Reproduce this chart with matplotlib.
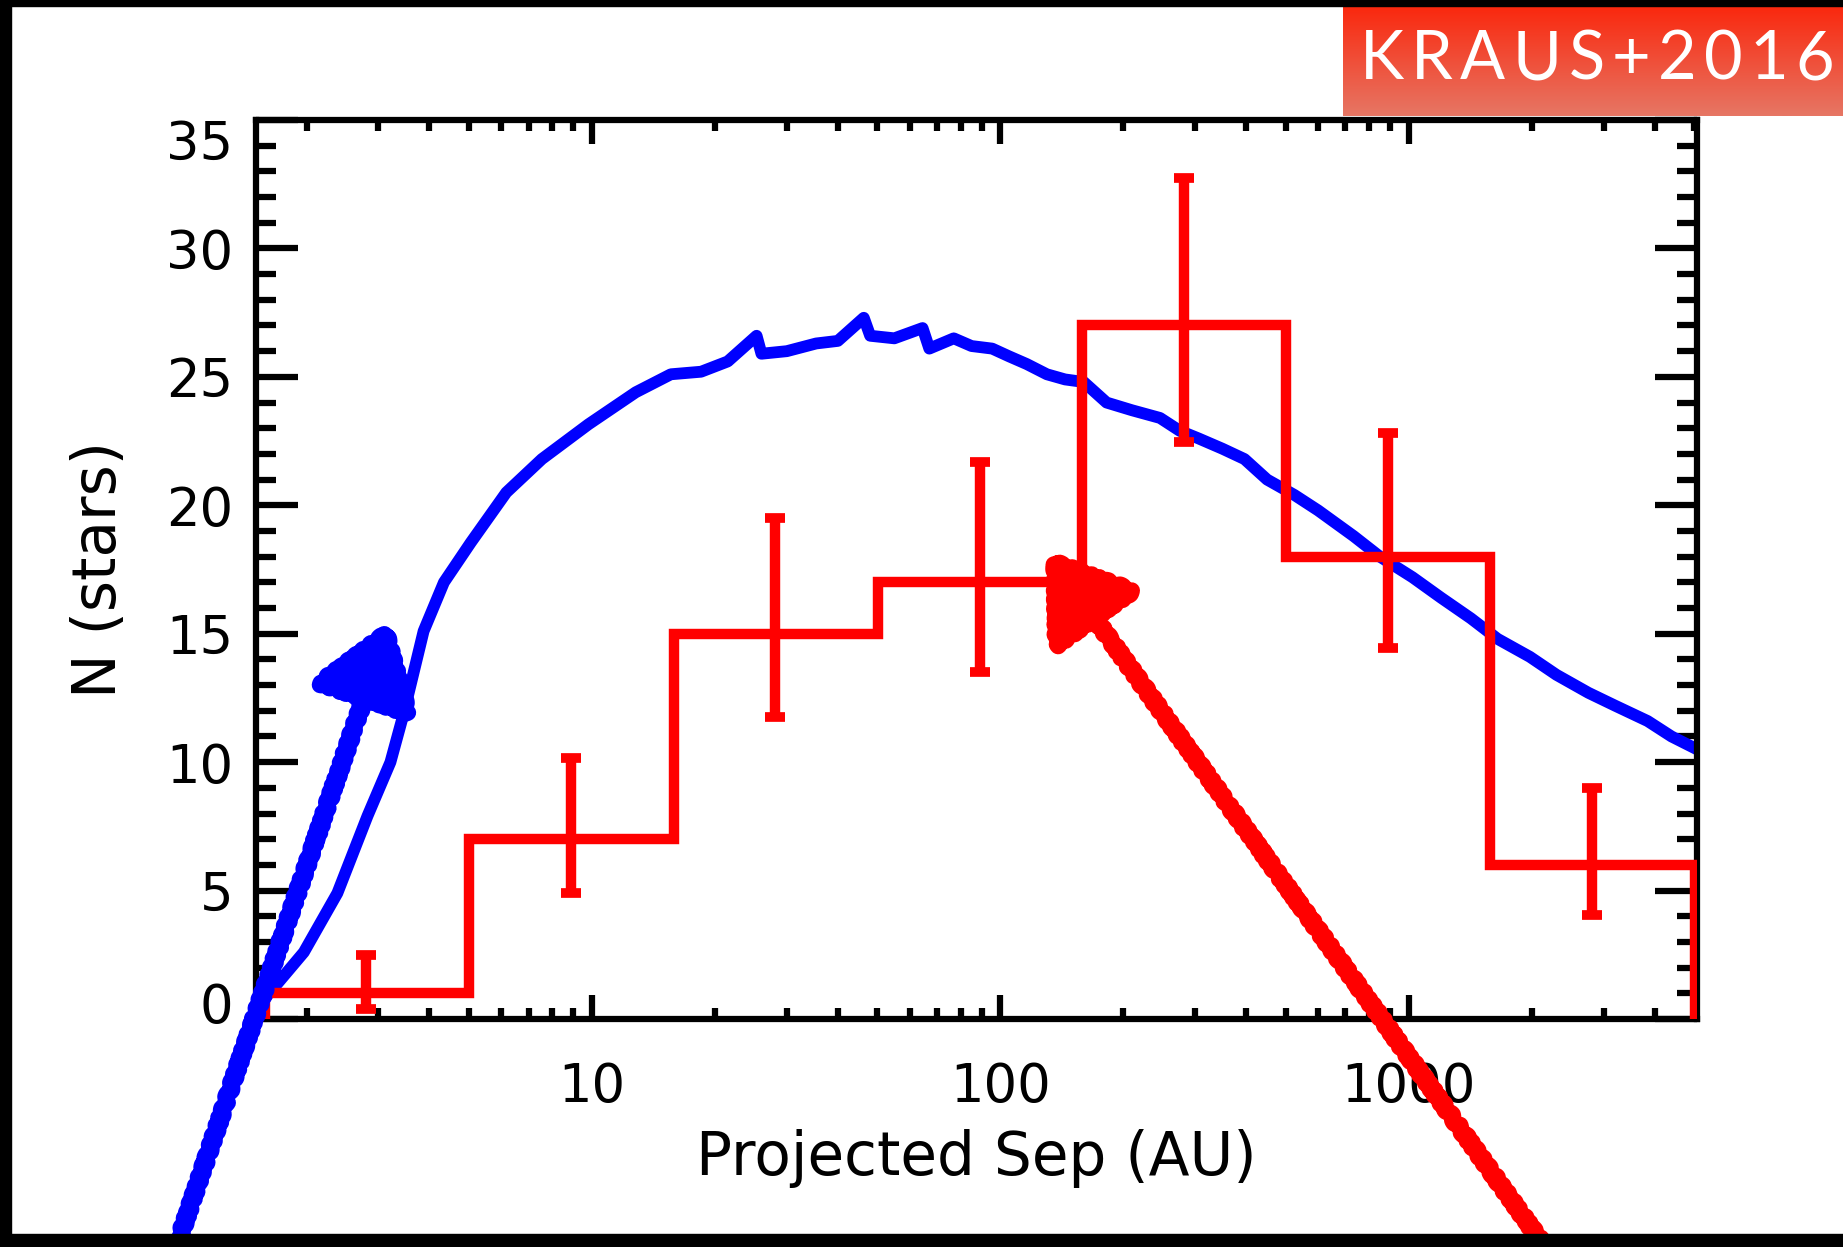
import matplotlib
matplotlib.use("Agg")
import matplotlib.pyplot as plt
import numpy as np
from matplotlib.patches import Rectangle, FancyArrowPatch
from matplotlib.ticker import FixedLocator, FixedFormatter, LogLocator, NullFormatter, MultipleLocator
import matplotlib.transforms as mtransforms

# model curve (blue)
model_sep = [1.6, 1.66, 1.97, 2.38, 2.82, 3.21, 3.46, 3.87, 4.34, 5.05, 6.17, 7.54,
             9.8, 12.8, 15.6, 18.5, 21.5, 25.3, 26, 30, 35.4, 40, 46.3, 48, 55,
             64.5, 67, 76.9, 85, 95.5, 105, 116, 130, 144, 160, 182, 210, 246,
             275, 306, 350, 396, 450, 525, 600, 733, 850, 1021, 1200, 1419,
             1650, 1980, 2300, 2754, 3200, 3846, 4400, 5080]
model_n = [0.9, 1.2, 2.6, 4.9, 7.9, 10.0, 11.9, 15.1, 17.0, 18.55, 20.5, 21.8,
           23.15, 24.4, 25.1, 25.2, 25.6, 26.6, 25.9, 26.0, 26.3, 26.4, 27.3, 26.6, 26.5,
           26.9, 26.1, 26.5, 26.2, 26.1, 25.8, 25.5, 25.1, 24.9, 24.8, 24.0, 23.7, 23.4,
           22.9, 22.6, 22.2, 21.8, 21.0, 20.4, 19.8, 18.8, 18.0, 17.2, 16.4, 15.6,
           14.8, 14.1, 13.4, 12.7, 12.2, 11.6, 11.0, 10.5]

# observed histogram (red)
bin_edges = [1.585, 5.01, 15.85, 50.1, 158.5, 501, 1585, 5012]
bin_centers = [2.8, 8.9, 28, 89, 282, 891, 2818]
hist_counts = [1, 7, 15, 17, 27, 18, 6]
err_top = [2.5, 10.15, 19.5, 21.7, 32.75, 22.8, 9.0]
err_bottom = [0.4, 4.9, 11.75, 13.5, 22.45, 14.45, 4.05]

# hand-drawn arrows (tail, tip) in data units
blue_arrow = [(0.977, -8.5), (3.21, 15.5)]
red_arrow = [(2118, -8.7), (130, 18.2)]

x_ticks = [10, 100, 1000]
x_ticklabels = ["10", "100", "1000"]
y_ticks = [0, 5, 10, 15, 20, 25, 30, 35]
tag_text = "KRAUS+2016"

plt.rcParams['font.family'] = ['DejaVu Sans']

W, H = 1843, 1247
fig = plt.figure(figsize=(W / 100, H / 100), dpi=100)
ax = fig.add_axes([255.5 / W, 1 - 1019 / H, (1697 - 255.5) / W, (1019 - 120) / H])

ax.plot(model_sep, model_n, color='#0000ff', lw=8.5, zorder=2)
ax.stairs(hist_counts, bin_edges, baseline=0, color='#ff0000', lw=7.5, zorder=3)
yerr = [np.array(hist_counts) - np.array(err_bottom), np.array(err_top) - np.array(hist_counts)]
ax.errorbar(bin_centers, hist_counts, yerr=yerr, fmt='none', ecolor='#ff0000',
            elinewidth=7.5, capsize=7, capthick=7, zorder=3)

for (tail, tip), col in [(blue_arrow, '#0000ff'), (red_arrow, '#ff0000')]:
    arr = FancyArrowPatch(posA=tail, posB=tip, transform=ax.transData,
                          arrowstyle='-|>,head_length=48,head_width=33',
                          mutation_scale=1, lw=12, color=col, shrinkA=0, shrinkB=0,
                          joinstyle='round', capstyle='round', zorder=6)
    arr.set_clip_on(False)
    arr.set_sketch_params(scale=2, length=12, randomness=3)
    ax.add_patch(arr)

ax.set_xscale('log')
ax.set_xlim(1.5, 5080)
ax.set_ylim(0, 35)

ax.xaxis.set_major_locator(FixedLocator(x_ticks))
ax.xaxis.set_major_formatter(FixedFormatter(x_ticklabels))
ax.xaxis.set_minor_locator(LogLocator(base=10, subs=np.arange(2, 10)))
ax.xaxis.set_minor_formatter(NullFormatter())
ax.set_yticks(y_ticks)
ax.yaxis.set_minor_locator(MultipleLocator(1))

ax.tick_params(which='both', direction='in', top=True, right=True, color='black')
ax.tick_params(axis='x', which='major', length=17, width=4.5, pad=30, labelsize=38)
ax.tick_params(axis='x', which='minor', length=8, width=4.5)
ax.tick_params(axis='y', which='major', length=30, width=4.5, pad=16, labelsize=38)
ax.tick_params(axis='y', which='minor', length=14.5, width=4.5)
for s in ax.spines.values():
    s.set_linewidth(4.5)

ax.set_xlabel("Projected Sep (AU)", fontsize=43)
ax.set_ylabel("N (stars)", fontsize=43)
ax.xaxis.set_label_coords(0.5, (1019 - 1158) / 899)
ax.xaxis.label.set_va('center')
ax.yaxis.set_label_coords((100 - 255.5) / 1441.5, 0.5)
ax.yaxis.label.set_va('center')

# IDL keeps the end labels inside the axis range
yt = ax.yaxis.get_major_ticks()
yt[0].label1.set_transform(yt[0].label1.get_transform() +
                           mtransforms.ScaledTranslation(0, 16 / 100, fig.dpi_scale_trans))
yt[-1].label1.set_transform(yt[-1].label1.get_transform() +
                            mtransforms.ScaledTranslation(0, -19 / 100, fig.dpi_scale_trans))

# frame bands
for r in [(0, 1 - 6 / H, 1, 6 / H), (0, 0, 11 / W, 1), (0, 0, 1, 13 / H)]:
    fig.add_artist(Rectangle(r[:2], r[2], r[3], transform=fig.transFigure,
                             color='black', zorder=10))

# red tag box with gradient
tag_ax = fig.add_axes([1343 / W, 1 - 116 / H, 500 / W, 110 / H])
c_top = np.array([250, 40, 14]) / 255
c_bot = np.array([230, 118, 100]) / 255
t = np.linspace(0, 1, 64)[:, None]
grad = (c_top[None, :] * (1 - t) + c_bot[None, :] * t)[:, None, :]
tag_ax.imshow(grad, aspect='auto', extent=[0, 1, 0, 1])
tag_ax.axis('off')

fig.canvas.draw()
rend = fig.canvas.get_renderer()
chars = [fig.text(0, 0, c, color='white', fontsize=48, family=['Lato', 'DejaVu Sans'],
                  va='center', ha='left', zorder=12) for c in tag_text]
widths = [c.get_window_extent(rend).width for c in chars]
gap = (1834 - 1360 - sum(widths)) / (len(chars) - 1)
xpos = 1360
for c, w in zip(chars, widths):
    c.set_position((xpos / W, 1 - 60 / H))
    xpos += w + gap

fig.savefig('out.png', dpi=100)
